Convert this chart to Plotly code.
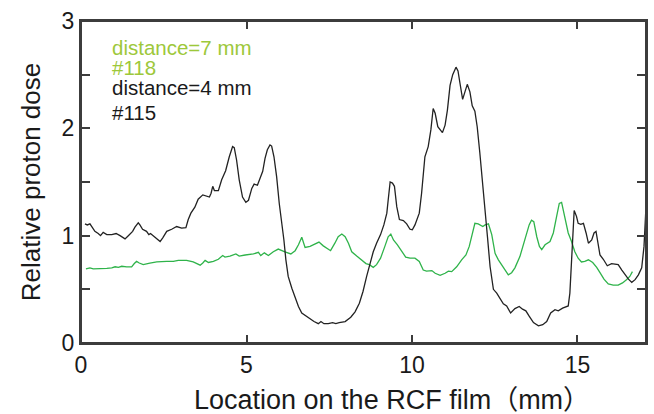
import plotly.graph_objects as go

# Sample #115 (distance = 4 mm), black curve
x_115 = [0.12, 0.19, 0.27, 0.32, 0.42, 0.52, 0.59, 0.67, 0.78, 0.93, 1.06, 1.18, 1.33, 1.43, 1.56,
         1.63, 1.73, 1.78, 1.86, 1.98, 2.05, 2.10, 2.21, 2.31, 2.39, 2.47, 2.59, 2.74, 2.89, 3.04,
         3.17, 3.24, 3.32, 3.44, 3.54, 3.68, 3.80, 3.88, 3.93, 3.98, 4.03, 4.15, 4.25, 4.37, 4.48,
         4.58, 4.63, 4.70, 4.78, 4.88, 4.98, 5.06, 5.16, 5.23, 5.33, 5.41, 5.49, 5.56, 5.63, 5.71,
         5.76, 5.83, 5.91, 5.99, 6.06, 6.13, 6.19, 6.26, 6.37, 6.47, 6.57, 6.67, 6.80, 6.92, 7.04,
         7.17, 7.25, 7.34, 7.47, 7.60, 7.70, 7.80, 7.98, 8.15, 8.28, 8.41, 8.52, 8.63, 8.73, 8.83,
         8.93, 9.05, 9.15, 9.24, 9.28, 9.34, 9.41, 9.47, 9.54, 9.62, 9.74, 9.84, 9.94, 10.01, 10.09,
         10.22, 10.29, 10.39, 10.49, 10.57, 10.64, 10.70, 10.78, 10.85, 10.92, 11.00, 11.07, 11.15,
         11.23, 11.33, 11.39, 11.45, 11.53, 11.60, 11.67, 11.75, 11.82, 11.90, 11.97, 12.05, 12.14,
         12.21, 12.28, 12.36, 12.46, 12.56, 12.66, 12.76, 12.86, 12.98, 13.11, 13.24, 13.34, 13.44,
         13.54, 13.67, 13.82, 13.95, 14.07, 14.19, 14.32, 14.42, 14.55, 14.72, 14.77, 14.82, 14.87,
         14.90, 14.97, 15.02, 15.10, 15.18, 15.26, 15.33, 15.43, 15.50, 15.56, 15.63, 15.68, 15.78,
         15.90, 16.03, 16.23, 16.34, 16.44, 16.54, 16.64, 16.74, 16.84, 16.94, 17.01, 17.06, 17.14]
dose_115 = [1.11, 1.10, 1.11, 1.085, 1.04, 1.02, 1.00, 1.03, 1.01, 1.01, 1.02, 1.00, 0.97, 1.00, 1.04,
            1.08, 1.12, 1.10, 1.06, 1.04, 1.01, 1.02, 0.99, 0.96, 0.945, 0.98, 1.04, 1.06, 1.085, 1.07,
            1.075, 1.15, 1.21, 1.265, 1.34, 1.38, 1.37, 1.36, 1.395, 1.46, 1.42, 1.42, 1.52, 1.605, 1.735,
            1.83, 1.82, 1.705, 1.52, 1.36, 1.31, 1.33, 1.44, 1.48, 1.47, 1.535, 1.60, 1.72, 1.80, 1.845,
            1.835, 1.735, 1.55, 1.30, 1.15, 0.96, 0.775, 0.62, 0.51, 0.43, 0.34, 0.28, 0.25, 0.23, 0.20,
            0.18, 0.20, 0.18, 0.18, 0.19, 0.18, 0.19, 0.20, 0.24, 0.29, 0.37, 0.48, 0.62, 0.73, 0.85,
            0.93, 1.01, 1.10, 1.21, 1.33, 1.50, 1.49, 1.46, 1.27, 1.15, 1.14, 1.11, 1.06, 1.055, 1.10,
            1.21, 1.395, 1.735, 1.83, 1.985, 2.185, 2.14, 2.015, 1.99, 1.96, 2.03, 2.17, 2.40,
            2.50, 2.57, 2.535, 2.42, 2.27, 2.34, 2.41, 2.34, 2.21, 2.16, 2.015, 1.77, 1.49,
            1.24, 0.99, 0.71, 0.50, 0.465, 0.42, 0.365, 0.345, 0.28, 0.32, 0.34, 0.315, 0.30,
            0.25, 0.19, 0.16, 0.17, 0.20, 0.28, 0.31, 0.30, 0.325, 0.345, 0.465, 0.805, 1.115,
            1.235, 1.18, 1.115, 1.105, 1.115, 1.025, 0.93, 0.96, 1.025, 1.04, 0.93, 0.82, 0.78,
            0.72, 0.74, 0.73, 0.68, 0.635, 0.595, 0.565, 0.59, 0.635, 0.70, 0.90, 1.21, 1.395]

# Sample #118 (distance = 7 mm), green curve
x_118 = [0.15, 0.27, 0.37, 0.57, 0.78, 0.93, 1.03, 1.13, 1.23, 1.38, 1.53, 1.61, 1.68, 1.76, 1.88,
         2.08, 2.29, 2.59, 2.79, 2.94, 3.19, 3.39, 3.60, 3.68, 3.75, 3.85, 4.00, 4.15, 4.28, 4.35,
         4.50, 4.68, 4.78, 4.96, 5.21, 5.36, 5.43, 5.54, 5.66, 5.81, 5.96, 6.16, 6.34, 6.47, 6.57,
         6.67, 6.72, 6.77, 6.92, 7.07, 7.19, 7.32, 7.54, 7.67, 7.77, 7.88, 7.98, 8.08, 8.18, 8.33,
         8.48, 8.61, 8.71, 8.83, 8.93, 9.05, 9.18, 9.28, 9.36, 9.44, 9.56, 9.69, 9.81, 9.94, 10.09,
         10.22, 10.34, 10.44, 10.60, 10.70, 10.85, 11.00, 11.10, 11.20, 11.35, 11.50, 11.63, 11.73,
         11.82, 11.90, 12.00, 12.14, 12.21, 12.31, 12.41, 12.51, 12.61, 12.76, 12.91, 13.01, 13.11,
         13.26, 13.41, 13.54, 13.61, 13.68, 13.77, 13.85, 13.92, 14.02, 14.17, 14.27, 14.37, 14.45,
         14.52, 14.57, 14.64, 14.72, 14.82, 14.92, 15.02, 15.12, 15.22, 15.33, 15.46, 15.58, 15.68,
         15.80, 15.93, 16.08, 16.23, 16.36, 16.48, 16.58, 16.66]
dose_118 = [0.69, 0.70, 0.69, 0.69, 0.695, 0.70, 0.71, 0.705, 0.715, 0.71, 0.71, 0.74, 0.76, 0.745, 0.73,
            0.745, 0.755, 0.76, 0.76, 0.77, 0.77, 0.755, 0.725, 0.745, 0.77, 0.75, 0.76, 0.78, 0.815, 0.80,
            0.81, 0.83, 0.81, 0.82, 0.83, 0.845, 0.815, 0.84, 0.815, 0.85, 0.875, 0.85, 0.83, 0.86, 0.915,
            0.985, 0.945, 0.89, 0.90, 0.92, 0.94, 0.905, 0.86, 0.93, 0.99, 1.015, 0.99, 0.93, 0.85, 0.81,
            0.775, 0.74, 0.73, 0.705, 0.73, 0.79, 0.90, 0.99, 1.015, 0.96, 0.915, 0.86, 0.80, 0.79, 0.79,
            0.76, 0.68, 0.67, 0.675, 0.65, 0.63, 0.65, 0.67, 0.665, 0.71, 0.775, 0.82, 0.90,
            1.02, 1.115, 1.11, 1.085, 1.10, 1.11, 1.01, 0.835, 0.775, 0.70, 0.635, 0.655, 0.70,
            0.805, 0.96, 1.10, 1.145, 1.13, 0.99, 0.90, 0.87, 0.915, 0.945, 1.025, 1.18, 1.30,
            1.31, 1.24, 1.115, 1.025, 0.945, 0.85, 0.79, 0.755, 0.76, 0.775, 0.75, 0.705, 0.655,
            0.595, 0.55, 0.54, 0.54, 0.56, 0.59, 0.62, 0.665]

x_ticks = [0, 5, 10, 15]
y_tickvals = [0, 0.5, 1, 1.5, 2, 2.5, 3]
y_ticktext = ["0", "", "1", "", "2", "", "3"]
x_title = "Location on the RCF film（mm）"
y_title = "Relative proton dose"

FONT = "Liberation Sans, Arial, Noto Sans CJK SC, sans-serif"
AXCOL = "#3c3c3c"
TXT = "#1a1a1a"

fig = go.Figure()
fig.add_trace(go.Scatter(x=x_118, y=dose_118, mode="lines",
                         line=dict(color="#2fb34a", width=1.3), showlegend=False))
fig.add_trace(go.Scatter(x=x_115, y=dose_115, mode="lines",
                         line=dict(color="#222222", width=1.3), showlegend=False))

labels = [("distance=7 mm", "#9dc83a", 0.919),
          ("#118", "#9dc83a", 0.857),
          ("distance=4 mm", TXT, 0.794),
          ("#115", TXT, 0.716)]
for txt, col, yp in labels:
    fig.add_annotation(text=txt, xref="paper", yref="paper", x=0.051, y=yp,
                       xanchor="left", yanchor="middle", showarrow=False,
                       font=dict(family=FONT, size=20.5, color=col))

# x-axis title (slightly right of plot centre, as in the reference)
fig.add_annotation(text=x_title, xref="paper", yref="paper", x=0.55, y=-0.176,
                   xanchor="center", yanchor="middle", showarrow=False,
                   font=dict(family=FONT, size=27, color=TXT))

# plot frame
fig.add_shape(type="rect", xref="paper", yref="paper", x0=0, y0=0, x1=1, y1=1,
              line=dict(color=AXCOL, width=2), fillcolor="rgba(0,0,0,0)", layer="above")

fig.update_layout(
    width=654, height=414,
    margin=dict(l=81, r=8, t=21, b=71),
    plot_bgcolor="white", paper_bgcolor="white",
    font=dict(family=FONT, color=TXT),
    xaxis=dict(range=[0, 17.07], tickvals=x_ticks, ticks="inside", ticklen=8,
               tickcolor=AXCOL, tickwidth=2, showline=True, linecolor=AXCOL, linewidth=2,
               mirror="ticks", showgrid=False, zeroline=False, automargin=False,
               tickfont=dict(size=23, family=FONT, color=TXT)),
    yaxis=dict(range=[0, 3], tickvals=y_tickvals, ticktext=y_ticktext, ticks="inside",
               ticklen=9, tickcolor=AXCOL, tickwidth=2, showline=True, linecolor=AXCOL,
               linewidth=2, mirror="ticks", showgrid=False, zeroline=False, automargin=False,
               tickfont=dict(size=23, family=FONT, color=TXT),
               title=dict(text=y_title, standoff=14,
                          font=dict(size=26, family=FONT, color=TXT))),
)

fig.write_html("out.html", config={"displayModeBar": False},
               post_script="document.body.style.margin='0';document.body.style.overflow='hidden';")
